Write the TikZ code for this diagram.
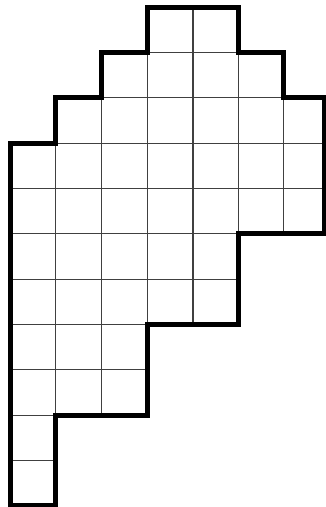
\documentclass[tikz,border=0pt]{standalone}
\begin{document}
\begin{tikzpicture}[x=1pt,y=-1pt,
  gridline/.style={draw=black!75,line width=1.1pt},
  outline/.style={draw=black,line width=5pt,line join=miter}]
\useasboundingbox (0,0) rectangle (326,507);
\def\X{{10,55.9,101.6,147.3,193,238.3,283.5,324.5}}
\def\Y{{7,52.3,97.7,143.1,188.4,233.8,279.2,324.5,369.9,415.2,460.6,505}}
\foreach \r/\a/\b in {0/3/5,1/2/6,2/1/7,3/0/7,4/0/7,5/0/5,6/0/5,7/0/3,8/0/3,9/0/1,10/0/1}{
  \pgfmathsetmacro\ya{\Y[\r]}
  \pgfmathsetmacro\yb{\Y[\r+1]}
  \pgfmathsetmacro\xa{\X[\a]}
  \pgfmathsetmacro\xb{\X[\b]}
  \foreach \c in {\a,...,\b}{
    \pgfmathsetmacro\xc{\X[\c]}
    \draw[gridline] (\xc,\ya) -- (\xc,\yb);
  }
  \draw[gridline] (\xa,\ya) -- (\xb,\ya) (\xa,\yb) -- (\xb,\yb);
}
\draw[outline] (10,143.1) -- (55.9,143.1) -- (55.9,97.7) -- (101.6,97.7) -- (101.6,52.3)
  -- (147.3,52.3) -- (147.3,7) -- (238.3,7) -- (238.3,52.3) -- (283.5,52.3)
  -- (283.5,97.7) -- (324.5,97.7) -- (324.5,233.8) -- (238.3,233.8) -- (238.3,324.5)
  -- (147.3,324.5) -- (147.3,415.2) -- (55.9,415.2) -- (55.9,505) -- (10,505) -- cycle;
\end{tikzpicture}
\end{document}
